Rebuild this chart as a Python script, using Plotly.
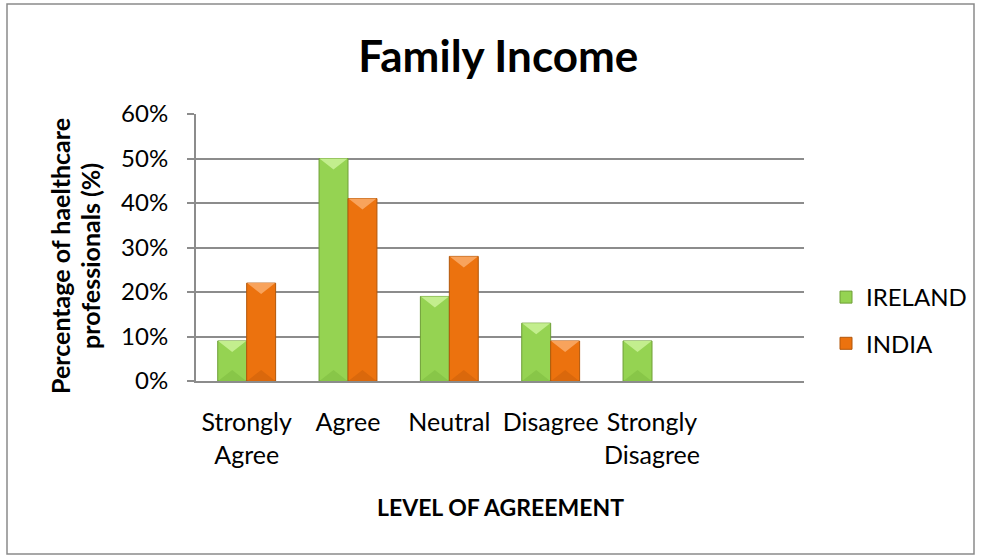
import plotly.graph_objects as go

# Survey data: share of healthcare professionals per level of agreement
categories = ["Strongly<br>Agree", "Agree", "Neutral", "Disagree", "Strongly<br>Disagree", ""]
ireland = [0.09, 0.50, 0.19, 0.13, 0.09, None]
india = [0.22, 0.41, 0.28, 0.09, 0.0, None]
y_ticks = [0, 0.1, 0.2, 0.3, 0.4, 0.5, 0.6]
y_tick_labels = ["0%", "10%", "20%", "30%", "40%", "50%", "60%"]
y_title_lines = ["Percentage of haelthcare", "professionals (%)"]

FONT = "Lato"
W, H = 981, 556
L, R, T, B = 196, 177, 114, 175
PW, PH = W - L - R, H - T - B
Y_MAX = 0.6
X_RANGE = (-0.5, len(categories) - 0.5)

BARGAP = 0.4286
BAR_W = (1 - BARGAP) / 2
HALF = BAR_W / 2

series = [
    dict(name="IRELAND", values=ireland, offset=-BAR_W / 2,
         fill="#95D352", line="#6E9E36", top="#C3EE8E", bottom="#88C648"),
    dict(name="INDIA", values=india, offset=BAR_W / 2,
         fill="#EC720E", line="#B2570A", top="#F8A35C", bottom="#DA680C"),
]

x_pos = list(range(len(categories)))
fig = go.Figure()

for s in series:
    fig.add_trace(go.Bar(
        x=x_pos, y=s["values"], name=s["name"],
        marker=dict(color=s["fill"],
                    line=dict(color=s["line"], width=[1 if v else 0 for v in s["values"]])),
        legendgroup=s["name"], hoverinfo="skip",
    ))

# bevel facets: light top triangle and slightly darker bottom triangle on each bar
px_y = Y_MAX / PH
depth = 11 * px_y
for s in series:
    tx, ty, bx, by = [], [], [], []
    for i, v in enumerate(s["values"]):
        if not v:
            continue
        c = i + s["offset"]
        x0, x1 = c - HALF + 0.004, c + HALF - 0.004
        d = min(depth, v / 2)
        tx += [x0, x1, c, x0, None]
        ty += [v, v, v - d, v, None]
        bx += [x0, x1, c, x0, None]
        by += [0, 0, d, 0, None]
    fig.add_trace(go.Scatter(x=tx, y=ty, fill="toself", fillcolor=s["top"], mode="none",
                             showlegend=False, hoverinfo="skip", legendgroup=s["name"]))
    fig.add_trace(go.Scatter(x=bx, y=by, fill="toself", fillcolor=s["bottom"], mode="none",
                             showlegend=False, hoverinfo="skip", legendgroup=s["name"]))


def px_to_paper_x(px):
    return (px - L) / PW


def px_to_paper_y(py):
    return (H - B - py) / PH


annotations = [
    dict(text=f"<b>{line}</b>", textangle=-90, x=px_to_paper_x(xc), y=px_to_paper_y(256),
         xref="paper", yref="paper", showarrow=False,
         font=dict(family=FONT, size=25), xanchor="center", yanchor="middle")
    for line, xc in zip(y_title_lines, (60, 90))
]
annotations.append(
    dict(text="<b>LEVEL OF AGREEMENT</b>",
         x=px_to_paper_x(500), y=px_to_paper_y(507),
         xref="paper", yref="paper", showarrow=False,
         font=dict(family=FONT, size=23), xanchor="center", yanchor="middle"))

fig.update_layout(
    width=W, height=H,
    margin=dict(l=L, r=R, t=T, b=B, autoexpand=False),
    paper_bgcolor="white", plot_bgcolor="white",
    barmode="group", bargap=BARGAP, bargroupgap=0,
    font=dict(family=FONT, color="#000000", size=24),
    title=dict(text="<b>Family Income</b>", x=0.508, xanchor="center",
               y=1 - 57 / H, yanchor="middle", yref="container",
               font=dict(family=FONT, size=44, color="#000000")),
    xaxis=dict(
        tickmode="array", tickvals=x_pos, ticktext=categories,
        range=list(X_RANGE), showgrid=False, zeroline=False,
        showline=True, linecolor="#8C8C8C", linewidth=2,
        ticks="", tickfont=dict(size=25), ticklabelstandoff=18,
    ),
    yaxis=dict(
        range=[0, Y_MAX], tickvals=y_ticks, ticktext=y_tick_labels,
        showgrid=True, gridcolor="#8C8C8C", gridwidth=2,
        zeroline=False, showline=True, linecolor="#8C8C8C", linewidth=2,
        ticks="outside", ticklen=7, tickcolor="#8C8C8C", tickwidth=2,
        tickfont=dict(size=24), ticklabelstandoff=14,
    ),
    legend=dict(
        x=px_to_paper_x(826), y=px_to_paper_y(275), xanchor="left", yanchor="top",
        font=dict(family=FONT, size=24), traceorder="grouped",
        tracegroupgap=12, bgcolor="rgba(0,0,0,0)",
    ),
    showlegend=True,
    annotations=annotations,
    shapes=[
        dict(type="rect", xref="paper", yref="paper", layer="below",
             x0=px_to_paper_x(7), x1=px_to_paper_x(974),
             y0=px_to_paper_y(554), y1=px_to_paper_y(4),
             line=dict(color="#8A8A8A", width=1.5), fillcolor="rgba(0,0,0,0)"),
    ],
)

fig.write_html("out.html")
